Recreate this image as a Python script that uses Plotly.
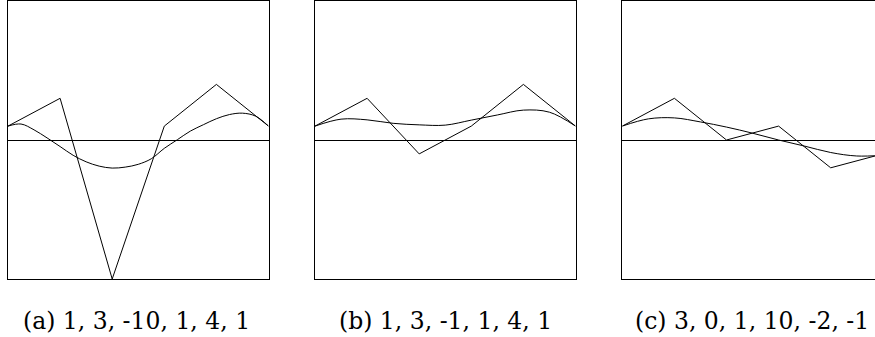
# Three panels: sample sequence (polyline) with its smooth fit

import plotly.graph_objects as go
from plotly.subplots import make_subplots

# =====================================================
# Data
# =====================================================

sample_x = [0, 1, 2, 3, 4, 5]

samples_a = [1, 3, -10, 1, 4, 1]
samples_b = [1, 3, -1, 1, 4, 1]
samples_c = [1, 3, 0, 1, -2, -1]

curve_x_a = [0, 0.25, 0.5, 0.75, 1, 1.25, 1.5, 1.75, 2, 2.25, 2.5,
             2.75, 3, 3.25, 3.5, 3.75, 4, 4.25, 4.5, 4.75, 5]
curve_a = [1.0, 1.15, 0.73, 0.15, -0.47, -1.1, -1.57, -1.88, -2.02, -1.95, -1.75,
           -1.35, -0.6, 0.02, 0.64, 1.1, 1.53, 1.83, 1.93, 1.72, 1.0]

curve_x = [0, 0.5, 1, 1.5, 2, 2.5, 3, 3.5, 4, 4.5, 5]
curve_b = [1.0, 1.5, 1.45, 1.2, 1.09, 1.07, 1.43, 1.8, 2.15, 2.0, 1.0]
curve_c = [1.0, 1.52, 1.59, 1.3, 0.93, 0.49, 0.0, -0.44, -0.9, -1.15, -1.1]

captions = [
    "(a) 1, 3, -10, 1, 4, 1",
    "(b) 1, 3, -1, 1, 4, 1",
    "(c) 3, 0, 1, 10, -2, -1",
]

# =====================================================
# Figure
# =====================================================

W, H = 875, 337

fig = make_subplots(rows=1, cols=3)

panels = [
    (samples_a, curve_x_a, curve_a),
    (samples_b, curve_x, curve_b),
    (samples_c, curve_x, curve_c),
]

for i, (pts, cx, crv) in enumerate(panels, start=1):

    fig.add_trace(
        go.Scatter(
            x=sample_x,
            y=pts,
            mode="lines",
            line=dict(color="black", width=1),
            hoverinfo="skip",
        ),
        row=1,
        col=i,
    )

    fig.add_trace(
        go.Scatter(
            x=cx,
            y=crv,
            mode="lines",
            line=dict(color="black", width=1, shape="spline", smoothing=1),
            hoverinfo="skip",
        ),
        row=1,
        col=i,
    )

# =====================================================
# Axes (pixel positions from the reference)
# =====================================================

left_px = [8, 315, 622.3]
box_w = 260.5
y_dom = [1 - 279 / H, 1 - 1 / H]

for i, lp in enumerate(left_px, start=1):

    right = lp + box_w
    x1 = min(right, W) / W
    xmax = 5 * (min(right, W) - lp) / box_w

    fig.update_xaxes(
        domain=[lp / W, x1],
        range=[0, xmax],
        showline=True,
        mirror=True,
        linecolor="black",
        linewidth=1,
        showgrid=False,
        zeroline=False,
        showticklabels=False,
        ticks="",
        row=1,
        col=i,
    )

    fig.update_yaxes(
        domain=y_dom,
        range=[-10, 10],
        showline=True,
        mirror=(i != 3),
        linecolor="black",
        linewidth=1,
        showgrid=False,
        zeroline=True,
        zerolinecolor="black",
        zerolinewidth=1,
        showticklabels=False,
        ticks="",
        row=1,
        col=i,
    )

# =====================================================
# Captions
# =====================================================

caption_cx = [136, 445.5, 752]

for cx, txt in zip(caption_cx, captions):

    fig.add_annotation(
        x=cx / W,
        y=1 - 321 / H,
        xref="paper",
        yref="paper",
        xanchor="center",
        yanchor="middle",
        text=txt,
        showarrow=False,
        font=dict(family="DejaVu Serif", size=23.5, color="black"),
    )

# =====================================================
# Layout
# =====================================================

fig.update_layout(
    width=W,
    height=H,
    margin=dict(l=0, r=0, t=0, b=0),
    paper_bgcolor="white",
    plot_bgcolor="white",
    showlegend=False,
)

fig.write_html(
    "out.html",
    config={"displayModeBar": False},
    post_script="document.body.style.margin='0';",
)
